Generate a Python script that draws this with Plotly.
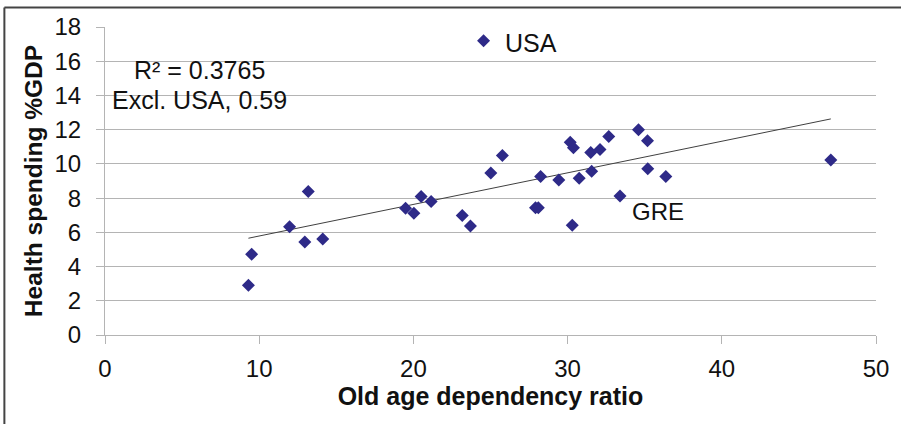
import numpy as np
import plotly.graph_objects as go

# Old age dependency ratio (x) vs health spending %GDP (y)
old_age_ratio = [9.30, 9.51, 11.97, 13.18, 12.96, 14.12, 19.49, 20.03, 20.50, 21.15,
                 23.17, 23.70, 25.02, 25.77, 27.92, 28.10, 28.25, 29.43, 30.17, 30.38,
                 30.30, 30.75, 31.50, 31.56, 32.10, 32.67, 33.40, 34.60, 35.18, 35.20,
                 36.37, 47.07, 24.55]
health_spending = [2.91, 4.72, 6.33, 8.38, 5.44, 5.61, 7.41, 7.12, 8.09, 7.80,
                   6.98, 6.37, 9.47, 10.49, 7.44, 7.44, 9.26, 9.06, 11.27, 10.95,
                   6.41, 9.16, 10.66, 9.57, 10.84, 11.60, 8.13, 11.99, 11.35, 9.71,
                   9.26, 10.23, 17.19]
labels = {"USA": (24.55, 17.19), "GRE": (33.40, 8.13)}
r2_text = ["R\u00b2 = 0.3765", "Excl. USA, 0.59"]
x_ticks = [0, 10, 20, 30, 40, 50]
y_ticks = [0, 2, 4, 6, 8, 10, 12, 14, 16, 18]

FONT = "Liberation Sans, Arial, sans-serif"
GRID = "#b4b4b4"
TXT = "#111111"

xa = np.array(old_age_ratio)
ya = np.array(health_spending)
slope, intercept = np.polyfit(xa, ya, 1)
tx = np.array([xa.min(), xa.max()])
ty = slope * tx + intercept

fig = go.Figure()
fig.add_trace(go.Scatter(x=tx, y=ty, mode="lines",
                         line=dict(color="#404040", width=1), hoverinfo="skip"))
fig.add_trace(go.Scatter(x=old_age_ratio, y=health_spending, mode="markers",
                         marker=dict(symbol="diamond", size=10, color="#2E2A88",
                                     line=dict(width=0))))

fig.add_annotation(x=labels["USA"][0], y=labels["USA"][1], text="USA", showarrow=False,
                   xanchor="left", yanchor="middle", xshift=19, yshift=-2,
                   font=dict(family=FONT, size=25, color=TXT))
fig.add_annotation(x=labels["GRE"][0], y=labels["GRE"][1], text="GRE", showarrow=False,
                   xanchor="left", yanchor="middle", xshift=10, yshift=-16,
                   font=dict(family=FONT, size=24, color=TXT))
fig.add_annotation(x=6.1, y=15.5, text=r2_text[0], showarrow=False,
                   xanchor="center", yanchor="middle",
                   font=dict(family=FONT, size=25, color=TXT))
fig.add_annotation(x=6.1, y=13.75, text=r2_text[1], showarrow=False,
                   xanchor="center", yanchor="middle",
                   font=dict(family=FONT, size=25, color=TXT))

# outer frame (left & top edges visible)
FX0, FY1 = -0.1305, 1.0635
fig.add_shape(type="line", xref="paper", yref="paper",
              x0=FX0, x1=1.1, y0=FY1, y1=FY1,
              line=dict(color="#444444", width=2), layer="above")
fig.add_shape(type="line", xref="paper", yref="paper",
              x0=FX0, x1=FX0, y0=-0.4, y1=FY1,
              line=dict(color="#444444", width=2), layer="above")

fig.update_layout(
    width=901, height=424,
    margin=dict(l=105, r=22, t=27, b=89),
    paper_bgcolor="white", plot_bgcolor="white",
    showlegend=False,
    font=dict(family=FONT, color=TXT),
    xaxis=dict(range=[0, 50], tickvals=x_ticks, showgrid=False,
               showline=True, linecolor=GRID, linewidth=1,
               ticks="outside", ticklen=8, tickcolor=GRID,
               ticklabelstandoff=4,
               tickfont=dict(size=24, family=FONT),
               title=dict(text="<b>Old age dependency ratio</b>",
                          font=dict(size=25, family=FONT), standoff=4),
               zeroline=False),
    yaxis=dict(range=[0, 18], tickvals=y_ticks, showgrid=True, gridcolor=GRID,
               gridwidth=1, showline=True, linecolor=GRID, linewidth=1,
               ticks="outside", ticklen=8, tickcolor=GRID,
               ticklabelstandoff=10,
               tickfont=dict(size=24, family=FONT),
               title=dict(text="<b>Health spending %GDP</b>",
                          font=dict(size=24.5, family=FONT), standoff=4),
               zeroline=False),
)

fig.write_html("out.html", config={"displayModeBar": False},
               post_script="document.body.style.margin='0';document.body.style.overflow='hidden';")
